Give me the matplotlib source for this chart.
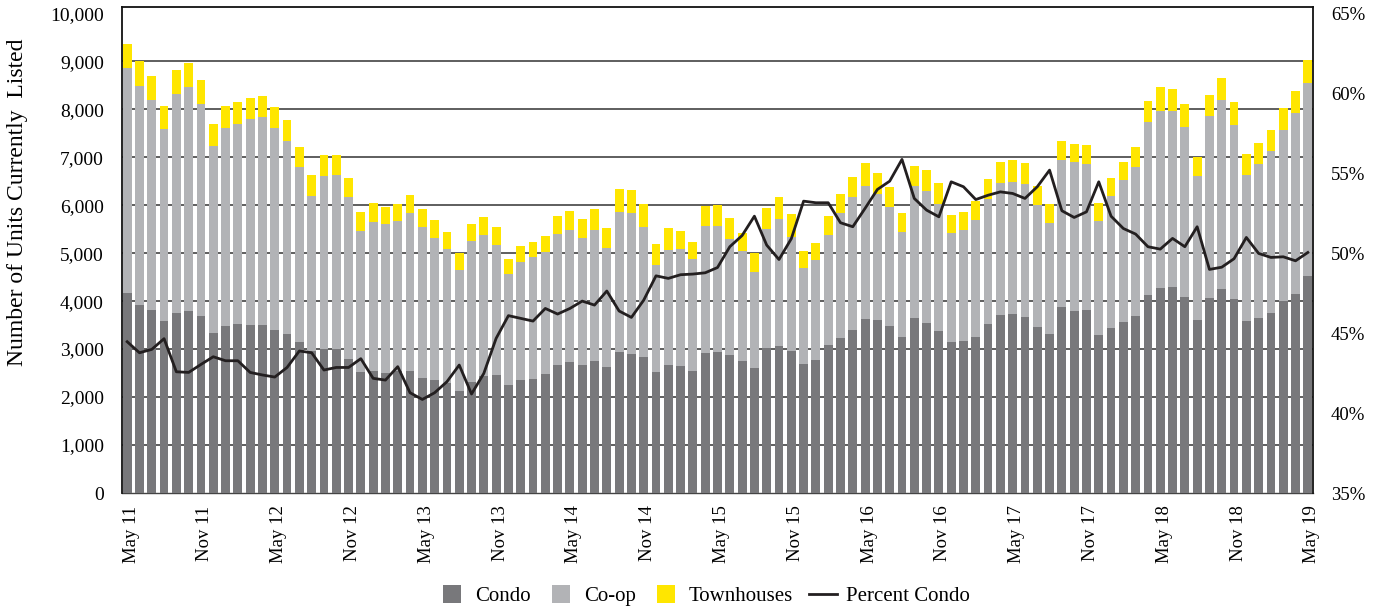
import matplotlib
matplotlib.use("Agg")
import matplotlib.pyplot as plt
import matplotlib.transforms as mtransforms
from matplotlib.lines import Line2D
import numpy as np

# Monthly listings, May 2011 .. May 2019 (97 months)
condo = [
    4160, 3924, 3819, 3583, 3750, 3799, 3694, 3340, 3486, 3514, 3500, 3500,
    3389, 3313, 3146, 2950, 3000, 3000, 2792, 2530, 2549, 2500, 2535, 2549,
    2396, 2347, 2292, 2132, 2306, 2438, 2458, 2250, 2354, 2382, 2479, 2667,
    2729, 2674, 2750, 2632, 2944, 2903, 2840, 2528, 2674, 2646, 2549, 2917,
    2944, 2882, 2757, 2611, 3014, 3069, 2958, 2688, 2778, 3083, 3232, 3396,
    3625, 3604, 3472, 3250, 3646, 3549, 3382, 3153, 3174, 3257, 3521, 3708,
    3729, 3667, 3458, 3313, 3868, 3799, 3819, 3299, 3444, 3563, 3694, 4125,
    4264, 4299, 4090, 3611, 4069, 4243, 4049, 3590, 3653, 3757, 4000, 4146,
    4521,
]
coop = [
    4701, 4562, 4375, 4000, 4569, 4666, 4417, 3903, 4125, 4174, 4292, 4347,
    4222, 4020, 3653, 3244, 3611, 3625, 3375, 2930, 3104, 3104, 3132, 3291,
    3146, 2972, 2798, 2521, 2951, 2937, 2709, 2313, 2465, 2535, 2535, 2729,
    2750, 2645, 2722, 2465, 2917, 2923, 2709, 2222, 2395, 2444, 2326, 2646,
    2612, 2410, 2285, 2000, 2486, 2632, 2368, 2006, 2083, 2299, 2604, 2771,
    2778, 2625, 2493, 2188, 2750, 2750, 2639, 2271, 2312, 2437, 2611, 2757,
    2757, 2777, 2535, 2312, 3070, 3090, 3035, 2375, 2750, 2965, 3105, 3611,
    3708, 3666, 3542, 3000, 3792, 3951, 3625, 3042, 3201, 3368, 3569, 3778,
    4028,
]
townhouses = [
    493, 514, 494, 480, 507, 493, 493, 445, 465, 458, 451, 438,
    431, 438, 409, 424, 431, 410, 389, 390, 396, 354, 354, 368,
    368, 369, 348, 340, 347, 375, 368, 319, 327, 312, 340, 382,
    396, 389, 445, 424, 479, 487, 479, 438, 445, 375, 354, 416,
    437, 430, 368, 382, 431, 466, 487, 348, 354, 382, 404, 430,
    472, 438, 403, 395, 417, 430, 437, 375, 361, 396, 417, 431,
    445, 431, 403, 389, 409, 389, 403, 375, 375, 375, 416, 445,
    486, 466, 472, 389, 445, 452, 472, 431, 431, 431, 459, 465,
    472,
]
pct_condo = [
    44.46, 43.77, 43.98, 44.65, 42.58, 42.54, 43.04, 43.52, 43.27, 43.27, 42.54, 42.38,
    42.25, 42.85, 43.88, 43.77, 42.69, 42.85, 42.85, 43.40, 42.17, 42.06, 42.90, 41.27,
    40.85, 41.27, 41.96, 43.00, 41.19, 42.48, 44.67, 46.09, 45.92, 45.75, 46.54, 46.19,
    46.54, 47.00, 46.75, 47.63, 46.38, 45.98, 47.06, 48.58, 48.42, 48.65, 48.69, 48.77,
    49.10, 50.40, 51.10, 52.31, 50.50, 49.60, 50.90, 53.25, 53.15, 53.15, 51.90, 51.65,
    52.80, 53.98, 54.50, 55.86, 53.42, 52.69, 52.27, 54.46, 54.15, 53.35, 53.62, 53.83,
    53.73, 53.42, 54.15, 55.19, 52.65, 52.23, 52.58, 54.46, 52.31, 51.54, 51.19, 50.40,
    50.25, 50.92, 50.40, 51.65, 48.98, 49.12, 49.65, 50.98, 49.98, 49.73, 49.77, 49.52,
    50.04,
]
tick_labels = [
    "May 11", "Nov 11", "May 12", "Nov 12", "May 13", "Nov 13", "May 14",
    "Nov 14", "May 15", "Nov 15", "May 16", "Nov 16", "May 17", "Nov 17",
    "May 18", "Nov 18", "May 19",
]

C_CONDO = "#78787b"
C_COOP = "#b2b3b6"
C_TOWN = "#ffe600"
C_LINE = "#231f20"

plt.rcParams["font.family"] = ["Liberation Serif", "DejaVu Serif"]

fig = plt.figure(figsize=(13.73, 6.09), dpi=100)
ax = fig.add_axes([122 / 1373, 1 - 493 / 609, 1191 / 1373, 486 / 609])

x = np.arange(len(condo))
condo_a = np.array(condo)
coop_a = np.array(coop)
town_a = np.array(townhouses)

bw = 0.72
ax.bar(x, condo_a, bw, color=C_CONDO, zorder=2, linewidth=0)
ax.bar(x, coop_a, bw, bottom=condo_a, color=C_COOP, zorder=2, linewidth=0)
ax.bar(x, town_a, bw, bottom=condo_a + coop_a, color=C_TOWN, zorder=2, linewidth=0)

# gridlines sit behind the bars
for v in range(1000, 10000, 1000):
    ax.axhline(v, color="#333333", lw=1.1, zorder=1)

ymax = 10130
ax.set_xlim(-0.42, len(condo) - 1 + 0.42)
ax.set_ylim(0, ymax)
ax.set_yticks(range(0, 10001, 1000))
ax.set_yticklabels([f"{v:,}" for v in range(0, 10001, 1000)], fontsize=14)
ax.tick_params(axis="y", length=0, pad=13)

tick_pos = list(range(0, len(condo), 6))
ax.set_xticks(tick_pos)
ax.set_xticklabels(tick_labels, rotation=90, fontsize=13.5)
ax.tick_params(axis="x", length=0, pad=9)
shift = mtransforms.ScaledTranslation(4 / 100, 0, fig.dpi_scale_trans)
for lab in ax.get_xticklabels():
    lab.set_transform(lab.get_transform() + shift)

for side in ["left", "top", "right"]:
    ax.spines[side].set_color("#111111")
    ax.spines[side].set_linewidth(1.3)
ax.spines["bottom"].set_color("#444444")
ax.spines["bottom"].set_linewidth(1.0)
ax.spines["bottom"].set_zorder(0)

# percent condo on the right axis
ax2 = ax.twinx()
ax2.plot(x, pct_condo, color=C_LINE, lw=2.0, zorder=5)
ax2.set_ylim(35, 35 + 30 * ymax / 10000)
ax2.set_yticks(range(35, 66, 5))
ax2.set_yticklabels([f"{v}%" for v in range(35, 66, 5)], fontsize=13.5)
ax2.tick_params(axis="y", length=0, pad=13)
for side in ["left", "top", "right", "bottom"]:
    ax2.spines[side].set_visible(False)
ax2.set_xlim(ax.get_xlim())

fig.text(18 / 1373, 1 - 202 / 609, "Number of Units Currently  Listed",
         rotation=90, ha="center", va="center", fontsize=17)

handles = [
    Line2D([0], [0], ls="none", marker="s", markersize=12.5, markeredgewidth=0,
           color=C_CONDO, label="Condo"),
    Line2D([0], [0], ls="none", marker="s", markersize=12.5, markeredgewidth=0,
           color=C_COOP, label="Co-op"),
    Line2D([0], [0], ls="none", marker="s", markersize=12.5, markeredgewidth=0,
           color=C_TOWN, label="Townhouses"),
    Line2D([0], [0], color=C_LINE, lw=2.0, label="Percent Condo"),
]
fig.legend(
    handles=handles, loc="center", ncol=4, frameon=False,
    bbox_to_anchor=(704 / 1373, 1 - 596 / 609),
    fontsize=15, handlelength=1.35, numpoints=1,
    columnspacing=0.75, handletextpad=0.45,
)

fig.savefig("out.png", dpi=100)
